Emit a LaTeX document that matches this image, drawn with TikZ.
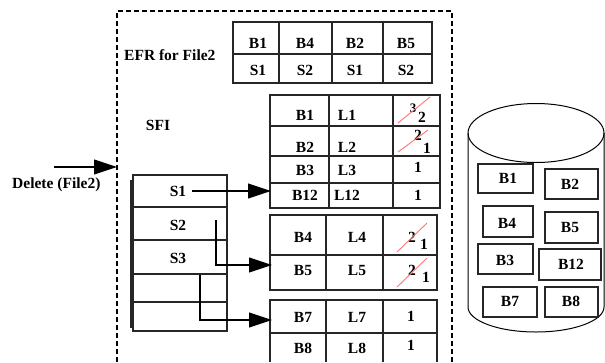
\documentclass[tikz,border=0pt]{standalone}
\usepackage{fontspec}
\setmainfont{Liberation Serif}
\usetikzlibrary{arrows.meta}
\begin{document}
\begin{tikzpicture}[x=1pt,y=-1pt,
  lbl/.style={font=\fontsize{15.5}{17}\selectfont\bfseries, inner sep=0pt},
  sm/.style={font=\fontsize{13}{15}\selectfont\bfseries, inner sep=0pt},
  grid/.style={line width=1.1pt, draw=black!85},
  big/.style={-{Triangle[length=23pt,width=15pt]}, line width=1.1pt},
  strike/.style={draw=red!55, line width=0.9pt},
  dashbox/.style={line width=2pt, dash pattern=on 5pt off 3pt},
  ]
\useasboundingbox (0,0) rectangle (605,362);

% dashed frame
\draw[dashbox] (117,362) -- (117,11) -- (452,11) -- (452,362);

% EFR table
\draw[grid] (233,22) rectangle (432,83);
\draw[grid] (233,54) -- (432,54);
\foreach \x in {279,332,383} \draw[grid] (\x,22) -- (\x,83);
\node[lbl] (e11) at (258,43) {B1};
\node[lbl] (e12) at (305,43) {B4};
\node[lbl] (e13) at (355,43) {B2};
\node[lbl] (e14) at (406,43) {B5};
\node[lbl] (e21) at (258,70) {S1};
\node[lbl] (e22) at (305,70) {S2};
\node[lbl] (e23) at (355,70) {S1};
\node[lbl] (e24) at (406,70) {S2};
\node[lbl, anchor=west] (efr) at (124,55) {EFR for File2};
\node[lbl] (sfi) at (158,125) {SFI};

% delete
\node[lbl, anchor=west] (del) at (12,185) {Delete (File2)};
\coordinate (din) at (54,167);
\coordinate (dout) at (117,167);
\draw[big] (din) -- (dout);

% SFI table
\draw[grid] (133,175) rectangle (227,331);
\foreach \y in {207,240,274,302} \draw[grid] (133,\y) -- (227,\y);
\draw[grid] (131,180) -- (131,328);
\node[lbl] (s1) at (178,191) {S1};
\node[lbl] (s2) at (178,225) {S2};
\node[lbl] (s3) at (178,258) {S3};

% table 1
\draw[grid] (270,95) rectangle (440,208);
\foreach \y in {126,156,183} \draw[grid] (270,\y) -- (440,\y);
\foreach \x in {329,393} \draw[grid] (\x,95) -- (\x,208);
\node[lbl] (b1) at (305,115) {B1};
\node[lbl] (l1) at (347,115) {L1};
\node[sm] (c1a) at (413,108) {3};
\node[lbl] (c1b) at (422,117) {2};
\draw[strike] (398,123) -- (430,97);
\node[lbl] (b2) at (305,147) {B2};
\node[lbl] (l2) at (347,147) {L2};
\node[lbl] (c2a) at (418,135) {2};
\node[lbl] (c2b) at (427,148) {1};
\draw[strike] (398,152) -- (428,130);
\node[lbl] (b3) at (305,170) {B3};
\node[lbl] (l3) at (347,170) {L3};
\node[lbl] (c3) at (418,167) {1};
\node[lbl] (b12) at (305,195) {B12};
\node[lbl] (l12) at (347,195) {L12};
\node[lbl] (c12) at (418,195) {1};

% table 2
\draw[grid] (270,215) rectangle (437,290);
\draw[grid] (270,255) -- (437,255);
\foreach \x in {326,383} \draw[grid] (\x,215) -- (\x,290);
\node[lbl] (b4) at (303,237) {B4};
\node[lbl] (l4) at (357,237) {L4};
\node[lbl] (c4a) at (412,237) {2};
\node[lbl] (c4b) at (424,244) {1};
\draw[strike] (397,252) -- (427,223);
\node[lbl] (b5) at (303,270) {B5};
\node[lbl] (l5) at (357,270) {L5};
\node[lbl] (c5a) at (412,270) {2};
\node[lbl] (c5b) at (426,277) {1};
\draw[strike] (397,287) -- (427,258);

% table 3
\draw[grid] (270,362) -- (270,300) -- (437,300) -- (437,362);
\draw[grid] (270,333) -- (437,333);
\foreach \x in {326,383} \draw[grid] (\x,300) -- (\x,362);
\node[lbl] (b7) at (303,317) {B7};
\node[lbl] (l7) at (357,317) {L7};
\node[lbl] (c7) at (411,316) {1};
\node[lbl] (b8) at (303,348) {B8};
\node[lbl] (l8) at (357,348) {L8};
\node[lbl] (c8) at (411,345) {1};

% connectors
\coordinate (t1in) at (271,191);
\coordinate (t2in) at (272,265);
\coordinate (t3in) at (272,320);
\coordinate (s2a) at (216,220);
\coordinate (s3a) at (200,275);
\draw[big] ([xshift=6pt]s1.east) -- (t1in);
\draw[big] (s2a) |- (t2in);
\draw[big] (s3a) |- (t3in);

% cylinder
\draw[line width=1pt] (536,133) ellipse [x radius=68pt, y radius=29.5pt];
\draw[line width=1pt] (468,133) -- (468,307) arc[start angle=180, end angle=360, x radius=68pt, y radius=25pt] -- (604,133);

\draw[grid] (478,164) rectangle (533,193);
\node[lbl] (d1) at (508,178) {B1};
\draw[grid] (545,169) rectangle (598,199);
\node[lbl] (d2) at (570,184) {B2};
\draw[grid] (483,206) rectangle (533,237);
\node[lbl] (d4) at (507,223) {B4};
\draw[grid] (545,212) rectangle (598,243);
\node[lbl] (d5) at (570,227) {B5};
\draw[grid] (478,244) rectangle (533,274);
\node[lbl] (d3) at (505,260) {B3};
\draw[grid] (539,249) rectangle (601,280);
\node[lbl] (d12) at (571,264) {B12};
\draw[grid] (483,287) rectangle (537,317);
\node[lbl] (d7) at (510,301) {B7};
\draw[grid] (545,287) rectangle (598,317);
\node[lbl] (d8) at (571,301) {B8};
\end{tikzpicture}
\end{document}
